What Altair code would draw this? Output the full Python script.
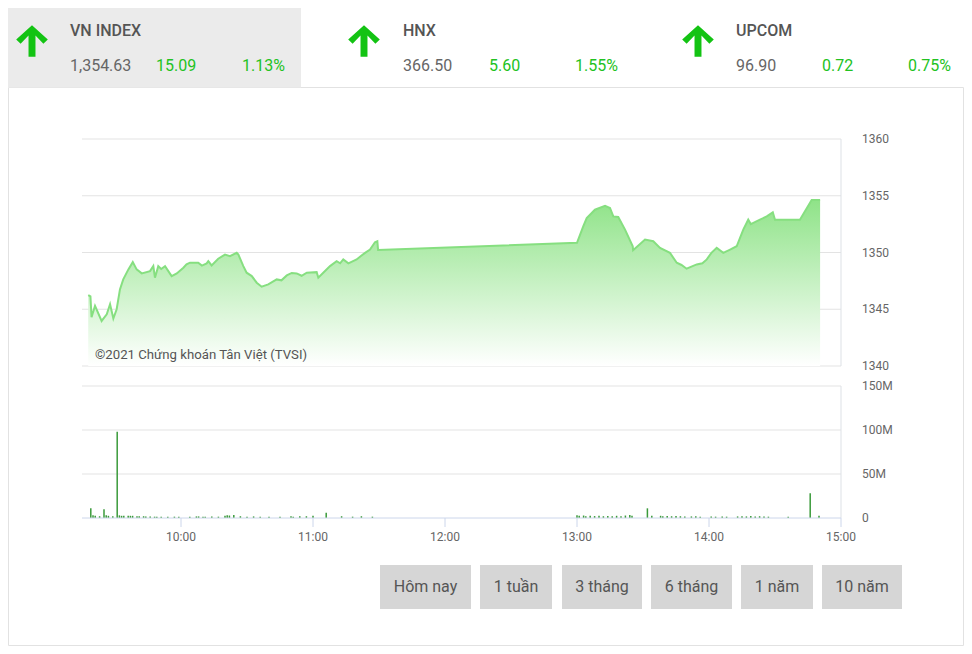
import altair as alt
import pandas as pd

# ---------------- data ----------------
indices = ["VN INDEX", "HNX", "UPCOM"]
index_values = ["1,354.63", "366.50", "96.90"]
index_changes = ["15.09", "5.60", "0.72"]
index_pcts = ["1.13%", "1.55%", "0.75%"]

price_times = [
    "09:17:50", "09:18:50", "09:19:20", "09:20:55", "09:23:55", "09:26:15", "09:27:45",
    "09:29:15", "09:30:45", "09:32:15", "09:33:45", "09:36:05", "09:38:05", "09:39:50",
    "09:42:10", "09:45:55", "09:47:25", "09:48:10", "09:49:40", "09:51:00", "09:52:45",
    "09:55:45", "09:58:05", "10:01:05", "10:02:30", "10:04:05", "10:07:50", "10:09:30",
    "10:11:40", "10:12:25", "10:13:55", "10:16:55", "10:20:00", "10:22:15", "10:25:20",
    "10:26:05", "10:28:20", "10:29:50", "10:32:10", "10:34:25", "10:36:40", "10:39:40",
    "10:43:30", "10:45:40", "10:48:05", "10:50:20", "10:52:35", "10:54:50", "10:57:10",
    "11:01:40", "11:02:25", "11:04:40", "11:07:45", "11:10:45", "11:12:20", "11:13:45",
    "11:16:05", "11:19:50", "11:21:30", "11:23:40", "11:25:55", "11:28:10", "11:29:15",
    "11:29:35",
    "13:00:00", "13:02:50", "13:04:25", "13:08:10", "13:12:45", "13:15:00", "13:16:30",
    "13:18:45", "13:21:50", "13:25:20", "13:25:30", "13:30:55", "13:34:40", "13:37:45",
    "13:42:15", "13:45:20", "13:47:30", "13:49:50", "13:54:25", "13:57:00", "13:59:00",
    "14:01:00", "14:03:30", "14:06:30", "14:09:35", "14:12:35", "14:15:35", "14:17:50",
    "14:19:00", "14:20:10", "14:23:10", "14:26:15", "14:29:00", "14:30:00", "14:41:20",
    "14:46:40", "14:50:30",
]
price_values = [
    1346.25, 1346.14, 1344.30, 1345.29, 1343.97, 1344.56, 1345.44,
    1344.18, 1345.00, 1346.75, 1347.63, 1348.51, 1349.15, 1348.51,
    1348.16, 1348.36, 1348.80, 1347.78, 1348.80, 1348.55, 1348.80,
    1347.92, 1348.16, 1348.66, 1348.95, 1349.10, 1349.10, 1348.85,
    1349.04, 1349.24, 1348.86, 1349.45, 1349.82, 1349.68, 1349.97,
    1349.82, 1348.80, 1348.22, 1347.92, 1347.34, 1346.99, 1347.19,
    1347.63, 1347.55, 1347.98, 1348.20, 1348.16, 1347.95, 1348.22,
    1348.27, 1347.78, 1348.22, 1348.80, 1349.24, 1349.05, 1349.39,
    1349.04, 1349.39, 1349.65, 1349.97, 1350.26, 1350.90, 1350.99,
    1350.22,
    1350.85, 1352.31, 1353.04, 1353.77, 1354.12, 1353.92, 1353.18,
    1353.13, 1352.02, 1350.55, 1350.20, 1351.14, 1350.99, 1350.41,
    1349.97, 1349.10, 1348.90, 1348.57, 1348.95, 1349.05, 1349.39,
    1349.95, 1350.41, 1349.97, 1350.26, 1350.55, 1352.02, 1352.89,
    1352.50, 1352.61, 1352.89, 1353.18, 1353.54, 1352.89, 1352.89,
    1354.63, 1354.63,
]

vol_times = [
    "09:19", "09:20", "09:21", "09:23", "09:25", "09:26", "09:27", "09:29", "09:31",
    "09:32", "09:33", "09:34", "09:36", "09:37", "09:38", "09:40", "09:41", "09:43",
    "09:44", "09:46", "09:48", "09:49", "09:51", "09:54", "09:57", "09:59", "10:04",
    "10:07", "10:08", "10:10", "10:11", "10:14", "10:17", "10:20", "10:21", "10:22",
    "10:24", "10:27", "10:30", "10:33", "10:36", "10:40", "10:45", "10:50", "10:51",
    "10:54", "10:57", "11:00", "11:06", "11:13", "11:18", "11:22", "11:27",
    "13:00", "13:01", "13:03", "13:04", "13:06", "13:08", "13:10", "13:12", "13:14",
    "13:16", "13:18", "13:20", "13:22", "13:24", "13:25", "13:32", "13:34", "13:38",
    "13:39", "13:41", "13:43", "13:45", "13:47", "13:49", "13:52", "13:54", "13:56",
    "14:01", "14:03", "14:06", "14:08", "14:13", "14:15", "14:17", "14:19", "14:21",
    "14:23", "14:25", "14:27", "14:36", "14:46", "14:50",
]
vol_values = [
    11, 3, 2.5, 2, 10, 3, 2.5, 2, 98,
    3, 2.5, 2.5, 2.5, 2.5, 2.5, 2, 2, 2,
    1.8, 1.8, 1.5, 1.5, 1.5, 1.5, 1.5, 1.5, 1.5,
    1.8, 1.8, 1.5, 1.5, 1.8, 1.5, 2.5, 3, 2.8,
    3.5, 2, 1.5, 1.8, 1.5, 1.5, 1.5, 2, 1.5,
    2, 2, 2.5, 6, 2, 1.5, 2, 1.5,
    3, 2.5, 2.8, 2, 2.5, 2.2, 2.5, 2, 2.2,
    2, 2.5, 2, 2.8, 3.5, 2.5, 11, 2.5, 2.5,
    2, 2.2, 2, 2.2, 2, 1.8, 1.8, 2, 1.5,
    1.8, 1.5, 1.8, 1.5, 1.8, 2, 1.8, 2.2, 1.8,
    2, 1.8, 1.5, 1.5, 28, 2.5,
]

price_ticks = [1340, 1345, 1350, 1355, 1360]
vol_ticks = [0, 50, 100, 150]
vol_tick_labels = ["0", "50M", "100M", "150M"]
time_ticks = ["10:00", "11:00", "12:00", "13:00", "14:00", "15:00"]
session = ["09:15", "15:00"]
buttons = ["Hôm nay", "1 tuần", "3 tháng", "6 tháng", "1 năm", "10 năm"]
copyright_text = "©2021 Chứng khoán Tân Việt (TVSI)"


def to_min(s):
    parts = [int(p) for p in s.split(":")]
    m = parts[0] * 60 + parts[1]
    if len(parts) > 2:
        m += parts[2] / 60.0
    return m


price_df = pd.DataFrame({"m": [to_min(t) for t in price_times], "p": price_values})
vol_df = pd.DataFrame({"m": [to_min(t) for t in vol_times], "v": vol_values})
ptick_df = pd.DataFrame({"v": price_ticks, "lab": [str(v) for v in price_ticks]})
vtick_df = pd.DataFrame({"v": vol_ticks, "lab": vol_tick_labels})
ttick_df = pd.DataFrame({"m": [to_min(t) for t in time_ticks], "lab": time_ticks})
t0, t1 = to_min(session[0]), to_min(session[1])

# ---------------- layout (chart pixels) ----------------
FONT = "Roboto"
W, H = 956, 638
xs = alt.Scale(domain=[t0, t1], range=[74, 833], nice=False, zero=False)
ps = alt.Scale(domain=[price_ticks[0], price_ticks[-1]], range=[358, 131], nice=False, zero=False)
vs = alt.Scale(domain=[vol_ticks[0], vol_ticks[-1]], range=[510, 378], nice=False, zero=False)

GRID = "#e3e3e3"
AXIS = "#ccd6eb"
GREEN = "#22c222"
GREY_TXT = "#666666"

layers = []


def one(label):
    return pd.DataFrame({"label": [label]})


# outer widget border
layers.append(
    alt.Chart(one("")).mark_rect(fill="white", stroke="#e2e2e2", strokeWidth=1).encode(
        x=alt.value(0.5), x2=alt.value(W - 0.5), y=alt.value(79.5), y2=alt.value(H - 0.5)
    )
)
# active tab
layers.append(
    alt.Chart(one("")).mark_rect(fill="#ebebeb").encode(
        x=alt.value(0), x2=alt.value(293), y=alt.value(0), y2=alt.value(79.5)
    )
)

# header
ARROW = "M0,-1L1,-0.1L0.72,0.17L0.22,-0.34L0.22,1L-0.22,1L-0.22,-0.34L-0.72,0.17L-1,-0.1Z"
arrow_x = [24, 356, 690]
name_x = [62, 395, 728]
chg_x = [148, 481, 814]
pct_x = [234, 567, 900]
for i in range(3):
    layers.append(
        alt.Chart(one(indices[i])).mark_point(
            shape=ARROW, filled=True, color="#13c313", opacity=1, size=1000
        ).encode(x=alt.value(arrow_x[i]), y=alt.value(33))
    )
    layers.append(
        alt.Chart(one(indices[i])).mark_text(
            font=FONT, fontSize=16, fontWeight=500, color="#555555", align="left", baseline="middle"
        ).encode(text="label:N", x=alt.value(name_x[i]), y=alt.value(23))
    )
    layers.append(
        alt.Chart(one(index_values[i])).mark_text(
            font=FONT, fontSize=16, color=GREY_TXT, align="left", baseline="middle"
        ).encode(text="label:N", x=alt.value(name_x[i]), y=alt.value(58))
    )
    layers.append(
        alt.Chart(one(index_changes[i])).mark_text(
            font=FONT, fontSize=16, color=GREEN, align="left", baseline="middle"
        ).encode(text="label:N", x=alt.value(chg_x[i]), y=alt.value(58))
    )
    layers.append(
        alt.Chart(one(index_pcts[i])).mark_text(
            font=FONT, fontSize=16, color=GREEN, align="left", baseline="middle"
        ).encode(text="label:N", x=alt.value(pct_x[i]), y=alt.value(58))
    )

# price panel grid
layers.append(
    alt.Chart(ptick_df).mark_rule(color=GRID, strokeWidth=1).encode(
        y=alt.Y("v:Q", scale=ps, axis=None),
        x=alt.X(datum=t0, scale=xs, axis=None),
        x2=alt.X2(datum=t1),
    )
)
layers.append(
    alt.Chart(one("")).mark_rule(color="#dde1e6", strokeWidth=1).encode(
        x=alt.X(datum=t1, scale=xs, axis=None),
        y=alt.Y(datum=price_ticks[-1], scale=ps, axis=None),
        y2=alt.Y2(datum=price_ticks[0]),
    )
)

# price area + line
grad = alt.Gradient(
    gradient="linear",
    stops=[alt.GradientStop(color="#ffffff", offset=0), alt.GradientStop(color="#8fe388", offset=1)],
    x1=1, x2=1, y1=1, y2=0,
)
layers.append(
    alt.Chart(price_df).mark_area(color=grad, opacity=1).encode(
        x=alt.X("m:Q", scale=xs, axis=None),
        y=alt.Y("p:Q", scale=ps, axis=None),
        y2=alt.Y2(datum=price_ticks[0]),
    )
)
layers.append(
    alt.Chart(price_df).mark_line(color="#86df80", strokeWidth=2).encode(
        x=alt.X("m:Q", scale=xs, axis=None),
        y=alt.Y("p:Q", scale=ps, axis=None),
    )
)

# price labels
layers.append(
    alt.Chart(ptick_df).mark_text(
        font=FONT, fontSize=12, color=GREY_TXT, align="left", baseline="middle"
    ).encode(y=alt.Y("v:Q", scale=ps, axis=None), x=alt.value(854), text="lab:N")
)

layers.append(
    alt.Chart(one(copyright_text)).mark_text(
        font=FONT, fontSize=13.2, color="#555555", align="left", baseline="middle"
    ).encode(text="label:N", x=alt.value(87), y=alt.value(347))
)

# volume panel grid
layers.append(
    alt.Chart(vtick_df[vtick_df["v"] > 0]).mark_rule(color=GRID, strokeWidth=1).encode(
        y=alt.Y("v:Q", scale=vs, axis=None),
        x=alt.X(datum=t0, scale=xs, axis=None),
        x2=alt.X2(datum=t1),
    )
)
layers.append(
    alt.Chart(one("")).mark_rule(color="#dde1e6", strokeWidth=1).encode(
        x=alt.X(datum=t1, scale=xs, axis=None),
        y=alt.Y(datum=vol_ticks[-1], scale=vs, axis=None),
        y2=alt.Y2(datum=vol_ticks[0]),
    )
)
# volume bars
layers.append(
    alt.Chart(vol_df).mark_rule(color="#3a9a3a", strokeWidth=1.5).encode(
        x=alt.X("m:Q", scale=xs, axis=None),
        y=alt.Y("v:Q", scale=vs, axis=None),
        y2=alt.Y2(datum=0),
    )
)
# baseline
layers.append(
    alt.Chart(one("")).mark_rule(color=AXIS, strokeWidth=1).encode(
        y=alt.Y(datum=0, scale=vs, axis=None),
        x=alt.X(datum=t0, scale=xs, axis=None),
        x2=alt.X2(datum=t1),
    )
)
# volume labels
layers.append(
    alt.Chart(vtick_df).mark_text(
        font=FONT, fontSize=12, color=GREY_TXT, align="left", baseline="middle"
    ).encode(y=alt.Y("v:Q", scale=vs, axis=None), x=alt.value(854), text="lab:N")
)
# time ticks + labels
layers.append(
    alt.Chart(ttick_df).mark_rule(color=AXIS, strokeWidth=1).encode(
        x=alt.X("m:Q", scale=xs, axis=None), y=alt.value(510), y2=alt.value(519)
    )
)
layers.append(
    alt.Chart(ttick_df).mark_text(
        font=FONT, fontSize=12, color=GREY_TXT, align="center", baseline="middle"
    ).encode(x=alt.X("m:Q", scale=xs, axis=None), y=alt.value(529), text="lab:N")
)

# buttons
BUTTON_BOXES = [(372, 463), (472, 544), (554, 634), (643, 724), (733, 805), (814, 894)]
for lab, (bx0, bx1) in zip(buttons, BUTTON_BOXES):
    layers.append(
        alt.Chart(one(lab)).mark_rect(fill="#d6d6d6").encode(
            x=alt.value(bx0), x2=alt.value(bx1), y=alt.value(557), y2=alt.value(601)
        )
    )
    layers.append(
        alt.Chart(one(lab)).mark_text(
            font=FONT, fontSize=16, color="#555555", align="center", baseline="middle"
        ).encode(text="label:N", x=alt.value((bx0 + bx1) / 2), y=alt.value(579))
    )

chart = (
    alt.layer(*layers)
    .resolve_scale(x="independent", y="independent")
    .properties(width=W, height=H, padding=0, autosize=alt.AutoSizeParams(type="none"))
    .configure_view(strokeWidth=0)
)

chart.save("out.html", embed_options={"renderer": "svg", "actions": False})
